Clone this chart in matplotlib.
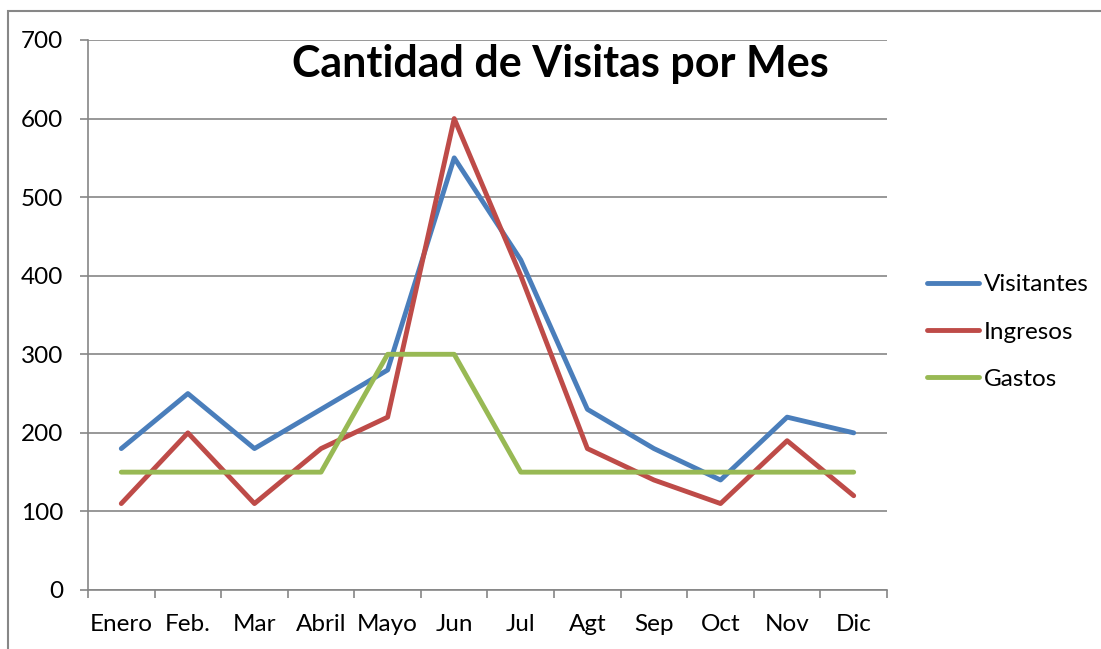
from matplotlib import pyplot as plt
from matplotlib.patches import Rectangle
import numpy as np

meses = ['Enero', 'Feb.', 'Mar', 'Abril', 'Mayo', 'Jun', 'Jul', 'Agt', 'Sep', 'Oct', 'Nov', 'Dic']
visitantes = [180, 250, 180, 230, 280, 550, 420, 230, 180, 140, 220, 200]
ingresos = [110, 200, 110, 180, 220, 600, 400, 180, 140, 110, 190, 120]
gastos = [150, 150, 150, 150, 300, 300, 150, 150, 150, 150, 150, 150]

plt.rcParams['font.family'] = ['Lato', 'DejaVu Sans']

def main():
    fig = plt.figure(figsize=(11.01, 6.49), dpi=100)
    ax = fig.add_axes([88 / 1101, 1 - 590 / 649, 799 / 1101, 550 / 649])

    # chart area border (only top and left edges visible)
    fig.patches.append(Rectangle((8 / 1101, -0.1), 1.2, 1 - 11 / 649 + 0.1,
                                 transform=fig.transFigure, fill=False,
                                 edgecolor='#878787', linewidth=1.5))

    x = np.arange(len(meses))
    series = [('Visitantes', visitantes, '#4A7EBB'),
              ('Ingresos', ingresos, '#BE4B48'),
              ('Gastos', gastos, '#98B954')]
    for name, vals, color in series:
        ax.plot(x, vals, color=color, linewidth=3.5, label=name,
                solid_capstyle='round')

    ax.set_xlim(-0.5, len(meses) - 0.5)
    ax.set_ylim(0, 700)
    ax.set_yticks(np.arange(0, 701, 100))
    ax.yaxis.grid(True, color='#868686', linewidth=1.2)
    ax.set_axisbelow(True)

    ax.set_xticks(x)
    ax.set_xticklabels(meses)
    ax.set_xticks(np.arange(-0.5, len(meses), 1), minor=True)
    ax.tick_params(axis='x', which='major', length=0, pad=17, labelsize=17.5)
    ax.tick_params(axis='x', which='minor', length=6, color='#868686', width=1.2)
    ax.tick_params(axis='y', length=6, color='#868686', width=1.2, pad=12, labelsize=17.5)

    for side in ['top', 'right']:
        ax.spines[side].set_visible(False)
    for side in ['left', 'bottom']:
        ax.spines[side].set_color('#868686')
        ax.spines[side].set_linewidth(1.2)

    ax.text((560 - 88) / 799, (590 - 77) / 550, 'Cantidad de Visitas por Mes',
            transform=ax.transAxes, ha='center', va='baseline',
            fontsize=31, fontweight='bold')

    fig.legend(loc='center left', bbox_to_anchor=(905 / 1101, 1 - 332 / 649),
               frameon=False, fontsize=17.5, handlelength=2.15, handletextpad=0.2,
               labelspacing=1.07)

    fig.savefig('out.png', dpi=100)

if __name__ == '__main__':
    main()
